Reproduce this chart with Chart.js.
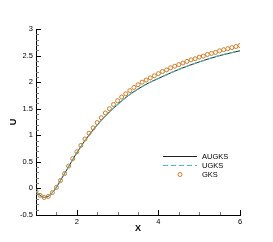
<!DOCTYPE html>
<head>
  <script src="https://cdn.jsdelivr.net/npm/chart.js"></script>
  <style>
    body { margin: 0; background: #fff; }
    .chartBox { width: 273px; height: 242px; }
  </style>
</head>
<body>
<div class="chartBox">
  <canvas id="uChart"></canvas>
</div>

<script>
// GKS samples (circles)
const gksX = [1.0, 1.1, 1.2, 1.3, 1.4, 1.5, 1.6, 1.7, 1.8, 1.9,
              2.0, 2.1, 2.2, 2.3, 2.4, 2.5, 2.6, 2.7, 2.8, 2.9,
              3.0, 3.1, 3.2, 3.3, 3.4, 3.5, 3.6, 3.7, 3.8, 3.9,
              4.0, 4.1, 4.2, 4.3, 4.4, 4.5, 4.6, 4.7, 4.8, 4.9,
              5.0, 5.1, 5.2, 5.3, 5.4, 5.5, 5.6, 5.7, 5.8, 5.9, 6.0];
const gksU = [-0.05, -0.13, -0.17, -0.15, -0.08, 0.02, 0.15, 0.28, 0.42, 0.56,
              0.69, 0.81, 0.93, 1.04, 1.14, 1.24, 1.33, 1.42, 1.50, 1.58,
              1.65, 1.72, 1.78, 1.84, 1.90, 1.95, 2.00, 2.04, 2.08, 2.12,
              2.16, 2.20, 2.23, 2.27, 2.30, 2.33, 2.36, 2.39, 2.42, 2.44,
              2.47, 2.49, 2.52, 2.54, 2.56, 2.59, 2.61, 2.63, 2.65, 2.67, 2.69];

// AUGKS / UGKS curves
const lineX = [1.0, 1.1, 1.2, 1.3, 1.4, 1.5, 1.6, 1.8, 2.0, 2.2, 2.4, 2.6, 2.8,
               3.0, 3.25, 3.5, 3.75, 4.0, 4.5, 5.0, 5.5, 6.0];
const augksU = [-0.05, -0.13, -0.17, -0.15, -0.08, 0.02, 0.15, 0.41, 0.67, 0.90, 1.10, 1.28, 1.44,
                1.58, 1.74, 1.87, 1.98, 2.07, 2.24, 2.38, 2.50, 2.59];
const ugksU = [-0.05, -0.13, -0.17, -0.15, -0.08, 0.02, 0.15, 0.41, 0.67, 0.90, 1.10, 1.28, 1.44,
               1.58, 1.74, 1.87, 1.98, 2.07, 2.24, 2.38, 2.50, 2.59];

const xLabelTicks = [2, 4, 6];
const yLabelTicks = [-0.5, 0, 0.5, 1, 1.5, 2, 2.5, 3];

function pts(xs, ys) {
  return xs.map((x, i) => ({x: x, y: ys[i]}));
}

// tecplot style inward ticks
const inwardTicks = {
  id: 'inwardTicks',
  afterDraw(chart) {
    const {ctx, chartArea: {left, bottom}, scales: {x, y}} = chart;
    ctx.save();
    ctx.lineWidth = 1;
    for (let i = -5; i <= 30; i++) {
      const v = i / 10;
      const py = Math.round(y.getPixelForValue(v)) + 0.5;
      const major = i % 5 === 0;
      ctx.strokeStyle = major ? '#000' : '#777';
      ctx.beginPath();
      ctx.moveTo(left, py);
      ctx.lineTo(left + (major ? 5 : 3), py);
      ctx.stroke();
    }
    for (let i = 3; i <= 12; i++) {
      const v = i / 2;
      const px = Math.round(x.getPixelForValue(v)) + 0.5;
      const major = v % 2 === 0;
      ctx.strokeStyle = major ? '#000' : '#777';
      ctx.beginPath();
      ctx.moveTo(px, bottom);
      ctx.lineTo(px, bottom - (major ? 5 : 3));
      ctx.stroke();
    }
    ctx.restore();
  }
};

const boxLegend = {
  id: 'boxLegend',
  afterDraw(chart) {
    const ctx = chart.ctx;
    const ds = chart.data.datasets;
    ctx.save();
    ctx.font = '7.5px "Liberation Sans", Arial, sans-serif';
    ctx.textBaseline = 'middle';
    ctx.fillStyle = '#000';
    const rows = [156.5, 165.5, 174.5];
    ds.forEach((d, i) => {
      const yy = rows[i];
      if (d.showLine) {
        ctx.strokeStyle = d.borderColor;
        ctx.lineWidth = 1;
        ctx.setLineDash(d.borderDash || []);
        ctx.beginPath();
        ctx.moveTo(163, yy);
        ctx.lineTo(197, yy);
        ctx.stroke();
        ctx.setLineDash([]);
      } else {
        ctx.strokeStyle = d.pointBorderColor;
        ctx.lineWidth = 1;
        ctx.beginPath();
        ctx.arc(180, yy, 2, 0, Math.PI * 2);
        ctx.stroke();
      }
      ctx.fillText(d.label, 202, yy);
    });
    ctx.restore();
  }
};

new Chart(document.getElementById('uChart'), {
  type: 'scatter',
  data: {
    datasets: [
      {
        label: 'AUGKS',
        data: pts(lineX, augksU),
        showLine: true,
        borderColor: '#222222',
        borderWidth: 1,
        pointRadius: 0,
        cubicInterpolationMode: 'monotone',
        order: 2
      },
      {
        label: 'UGKS',
        data: pts(lineX, ugksU),
        showLine: true,
        borderColor: '#4fb8b8',
        borderWidth: 1.2,
        borderDash: [5, 3],
        pointRadius: 0,
        cubicInterpolationMode: 'monotone',
        order: 1
      },
      {
        label: 'GKS',
        data: pts(gksX, gksU),
        showLine: false,
        pointRadius: 2,
        pointBorderWidth: 1,
        pointBorderColor: '#d07a22',
        pointBackgroundColor: 'rgba(255,255,255,0)',
        order: 0
      }
    ]
  },
  options: {
    responsive: true,
    maintainAspectRatio: false,
    animation: false,
    layout: { padding: { top: 29, right: 33, bottom: 0, left: 0 } },
    plugins: {
      legend: { display: false },
      tooltip: { enabled: false }
    },
    scales: {
      x: {
        type: 'linear',
        min: 1,
        max: 6,
        afterBuildTicks: (s) => { s.ticks = xLabelTicks.map(v => ({value: v})); },
        afterFit: (s) => { s.height = 27; },
        grid: { display: false, drawTicks: false },
        border: { display: true, color: '#000', width: 1 },
        ticks: {
          padding: 2,
          color: '#000',
          maxRotation: 0,
          font: { family: '"Liberation Sans", Arial', size: 7.5 },
          callback: (v) => String(v)
        },
        title: {
          display: true,
          text: 'X',
          color: '#000',
          padding: { top: 8.5, bottom: 8.5 },
          font: { family: '"Liberation Sans", Arial', size: 9, weight: 'bold' }
        }
      },
      y: {
        type: 'linear',
        min: -0.5,
        max: 3,
        afterBuildTicks: (s) => { s.ticks = yLabelTicks.map(v => ({value: v})); },
        afterFit: (s) => { s.width = 36; },
        grid: { display: false, drawTicks: false },
        border: { display: true, color: '#000', width: 1 },
        ticks: {
          padding: 3,
          color: '#000',
          font: { family: '"Liberation Sans", Arial', size: 7.5 },
          callback: (v) => String(v)
        },
        title: {
          display: true,
          text: 'U',
          color: '#000',
          padding: { top: 8, bottom: 8 },
          font: { family: '"Liberation Sans", Arial', size: 9, weight: 'bold' }
        }
      }
    }
  },
  plugins: [inwardTicks, boxLegend]
});
</script>
</body>
